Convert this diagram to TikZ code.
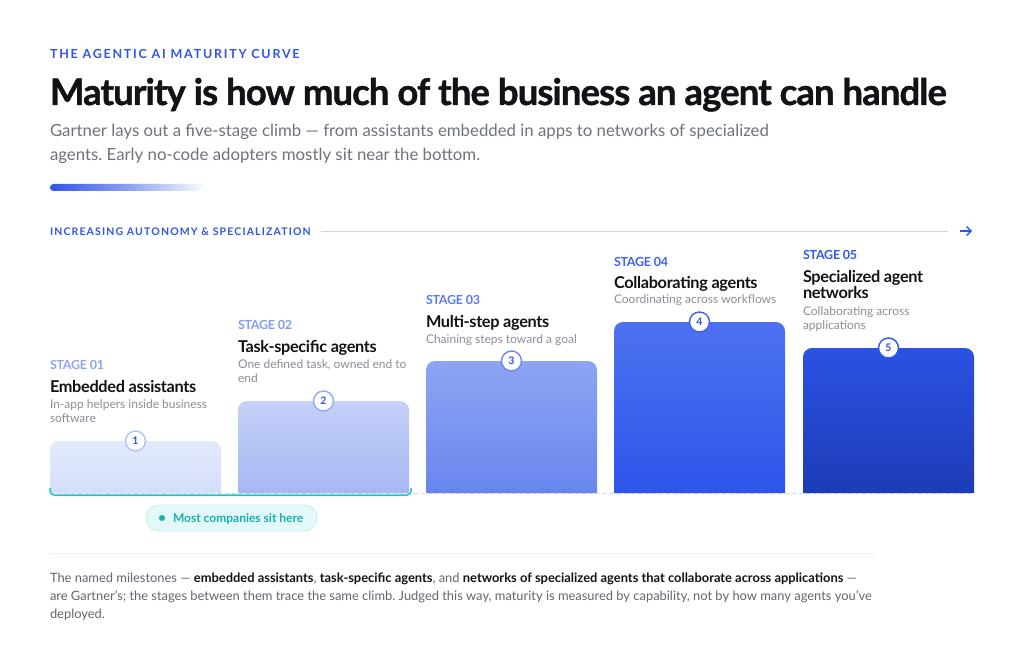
\documentclass[tikz,border=0pt]{standalone}
\usepackage{fontspec}
\setmainfont{Lato}
\newfontfamily\headfont{Lato}[LetterSpace=-2]
\newfontfamily\titlefont{Lato}[LetterSpace=-2.5, BoldFeatures={FakeBold=1.2}]
\newfontfamily\kickfont{Lato}[LetterSpace=14]
\newfontfamily\axisfont{Lato}[LetterSpace=11]
\usetikzlibrary{arrows.meta}
\frenchspacing
\definecolor{accent}{HTML}{2F56E8}
\definecolor{inkdark}{HTML}{121317}
\definecolor{subgray}{HTML}{6F737A}
\definecolor{descgray}{HTML}{8B8F96}
\definecolor{footgray}{HTML}{62666D}
\definecolor{axisline}{HTML}{C9D4FA}
\definecolor{baseclr}{HTML}{D3D8E2}
\definecolor{sepline}{HTML}{ECEEF1}
\definecolor{tealline}{HTML}{22C2C4}
\definecolor{tealtext}{HTML}{1AAEB0}
\definecolor{tealfill}{HTML}{E3F8F8}
\definecolor{tealdraw}{HTML}{C6EEEF}
\definecolor{lab1}{HTML}{90A4F4}
\definecolor{lab2}{HTML}{859CF3}
\definecolor{lab3}{HTML}{5A7CF0}
\definecolor{lab4}{HTML}{3C63EE}
\definecolor{lab5}{HTML}{2F58EE}
\definecolor{bartop1}{HTML}{E4EAFB}
\definecolor{barbot1}{HTML}{D4DEFA}
\definecolor{bartop2}{HTML}{C5D1F8}
\definecolor{barbot2}{HTML}{A6B7F3}
\definecolor{bartop3}{HTML}{8CA6F3}
\definecolor{barbot3}{HTML}{6885EE}
\definecolor{bartop4}{HTML}{4C71F0}
\definecolor{barbot4}{HTML}{2D56EA}
\definecolor{bartop5}{HTML}{2C52E4}
\definecolor{barbot5}{HTML}{1C3BB6}
\definecolor{ring1}{HTML}{B3C2F6}
\definecolor{ring2}{HTML}{94A9F4}
\definecolor{ring3}{HTML}{6A88F0}
\definecolor{ring4}{HTML}{3D63EE}
\definecolor{ring5}{HTML}{2F56E8}
\tikzset{
  txt/.style={inner sep=0pt, outer sep=0pt, anchor=base west},
  stagelab/.style={txt, font=\headfont\bfseries\fontsize{12.5}{14}\selectfont},
  stagetitle/.style={txt, text=inkdark, font=\headfont\bfseries\fontsize{16.3}{18}\selectfont},
  stagedesc/.style={txt, text=descgray, font=\fontsize{12}{14}\selectfont},
  numdot/.style={circle, minimum size=20pt, inner sep=0pt, fill=white, line width=1.4pt,
     text=accent, font=\bfseries\fontsize{10.5}{10.5}\selectfont},
  foot/.style={txt, text=footgray, font=\fontsize{12.9}{14}\selectfont},
}
\begin{document}
\begin{tikzpicture}[x=1pt,y=-1pt]
\useasboundingbox[fill=white] (0,0) rectangle (1024,668);

% header
\node[txt, text=accent, font=\kickfont\bfseries\fontsize{12.5}{14}\selectfont] (kicker) at (50,59) {THE AGENTIC AI MATURITY CURVE};
\node[txt, text=inkdark, font=\titlefont\bfseries\fontsize{36.5}{40}\selectfont] (title) at (50,105) {Maturity is how much of the business an agent can handle};
\node[txt, text=subgray, font=\fontsize{16.8}{20}\selectfont] (sub1) at (50,137) {Gartner lays out a five-stage climb — from assistants embedded in apps to networks of specialized};
\node[txt, text=subgray, font=\fontsize{16.8}{20}\selectfont] (sub2) at (50,161) {agents. Early no-code adopters mostly sit near the bottom.};
\shade[left color=accent, right color=white, middle color=accent!55, rounded corners=3.5pt] (50,184) rectangle (207,191);

% axis
\node[txt, text=accent, font=\axisfont\bfseries\fontsize{10.5}{12}\selectfont] (axlab) at (50,235.5) {INCREASING AUTONOMY \& SPECIALIZATION};
\coordinate (axend) at (948,231);
\coordinate (arr1) at (960,231);
\coordinate (arr2) at (972,231);
\draw[axisline, line width=0.9pt] (axlab.east |- axend) ++(10,0) -- (axend);
\draw[accent, line width=1.3pt, -{Straight Barb[length=4.5pt,width=9pt]}] (arr1) -- (arr2);

% baseline
\draw[baseclr, line width=0.9pt, dash pattern=on 4pt off 3pt] (50,493.6) -- (974,493.6);

% bars
\foreach \i/\x/\t in {1/50/441, 2/238/401, 3/426/361, 4/614/322, 5/803/348}{
  \shade[top color=bartop\i, bottom color=barbot\i]
     (\x,493) [rounded corners=9pt] -- (\x,\t) -- ({\x+171},\t) [sharp corners] -- ({\x+171},493) -- cycle;
}

% number markers
\foreach \i/\x/\t in {1/50/441, 2/238/401, 3/426/361, 4/614/322, 5/803/348}{
  \node[numdot, draw=ring\i] (c\i) at ({\x+85.5},\t) {\i};
}

% stage texts
\node[stagelab, text=lab1] (s1l) at (50,369) {STAGE 01};
\node[stagetitle] (s1t) at (50,392) {Embedded assistants};
\node[stagedesc] (s1d) at (50,408) {In-app helpers inside business};
\node[stagedesc] (s1e) at (50,422) {software};

\node[stagelab, text=lab2] (s2l) at (238,329) {STAGE 02};
\node[stagetitle] (s2t) at (238,352) {Task-specific agents};
\node[stagedesc] (s2d) at (238,368) {One defined task, owned end to};
\node[stagedesc] (s2e) at (238,382) {end};

\node[stagelab, text=lab3] (s3l) at (426,304.5) {STAGE 03};
\node[stagetitle] (s3t) at (426,327) {Multi-step agents};
\node[stagedesc] (s3d) at (426,343) {Chaining steps toward a goal};

\node[stagelab, text=lab4] (s4l) at (614,266) {STAGE 04};
\node[stagetitle] (s4t) at (614,288) {Collaborating agents};
\node[stagedesc] (s4d) at (614,303) {Coordinating across workflows};

\node[stagelab, text=lab5] (s5l) at (803,259.5) {STAGE 05};
\node[stagetitle] (s5t) at (803,282) {Specialized agent};
\node[stagetitle] (s5u) at (803,298.5) {networks};
\node[stagedesc] (s5d) at (803,315.5) {Collaborating across};
\node[stagedesc] (s5e) at (803,329.5) {applications};

% bracket + badge
\draw[tealline, line width=1.5pt, rounded corners=4pt] (50,488) -- (50,495) -- (411,495) -- (411,488);
\node[rounded corners=12.5pt, fill=tealfill, draw=tealdraw, line width=0.8pt, minimum width=171pt, minimum height=26pt, inner sep=0pt] (badge) at (231.5,518) {};
\node[circle, fill=tealtext, minimum size=6pt, inner sep=0pt] (bdot) at (162,518) {};
\node[txt, text=tealtext, font=\bfseries\fontsize{12}{14}\selectfont] (btext) at (173,522.3) {Most companies sit here};

% separator & footer
\coordinate (sepa) at (50,553);
\coordinate (sepb) at (875,553);
\draw[sepline, line width=0.8pt] (sepa) -- (sepb);
\node[foot] (f1) at (50,582) {The named milestones — \textcolor{inkdark}{\bfseries embedded assistants}, \textcolor{inkdark}{\bfseries task-specific agents}, and \textcolor{inkdark}{\bfseries networks of specialized agents that collaborate across applications} —};
\node[foot] (f2) at (50,600) {are Gartner’s; the stages between them trace the same climb. Judged this way, maturity is measured by capability, not by how many agents you’ve};
\node[foot] (f3) at (50,618) {deployed.};
\end{tikzpicture}
\end{document}
